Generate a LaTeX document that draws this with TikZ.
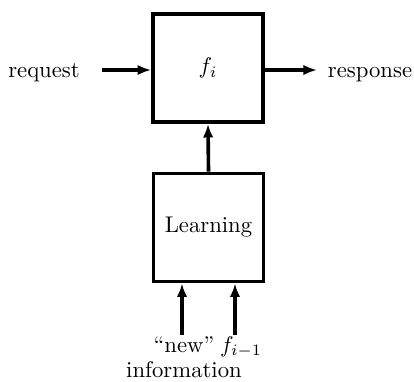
\documentclass[tikz,border=0pt]{standalone}
\usetikzlibrary{arrows.meta}
\begin{document}
\begin{tikzpicture}[x=0.4405pt,y=-0.4405pt,
  block/.style={draw,line width=1.6pt,minimum width=48.5pt,minimum height=47.6pt,inner sep=0pt},
  flow/.style={line width=1.6pt,-{Latex[length=6pt,width=4.6pt]}},
  lbl/.style={inner sep=0pt,anchor=base}]
\useasboundingbox (0,0) rectangle (414,381);
% processing function and learning component
\node[block] (f) at (208,68) {$f_i$};
\node[block] (learn) at (208.5,227.5) {Learning};
% outside inputs and outputs
\node[lbl] (req) at (44,77) {request};
\node[lbl] (resp) at (370,77) {response};
\coordinate (reqend) at (102,70);
\coordinate (respend) at (317,70);
\draw[flow] (reqend) -- (reqend -| f.west);
\draw[flow] (respend -| f.east) -- (respend);
\draw[flow] (learn.north) -- (f.south);
% inputs to learning
\node[lbl,align=center] (newinfo) at (184,377) {``new''\\[-1pt]information};
\node[lbl] (fprev) at (241,352) {$f_{i-1}$};
\coordinate (a1) at (182,335);
\coordinate (a2) at (235,335);
\draw[flow] (a1) -- (a1 |- learn.south);
\draw[flow] (a2) -- (a2 |- learn.south);
\end{tikzpicture}
\end{document}
